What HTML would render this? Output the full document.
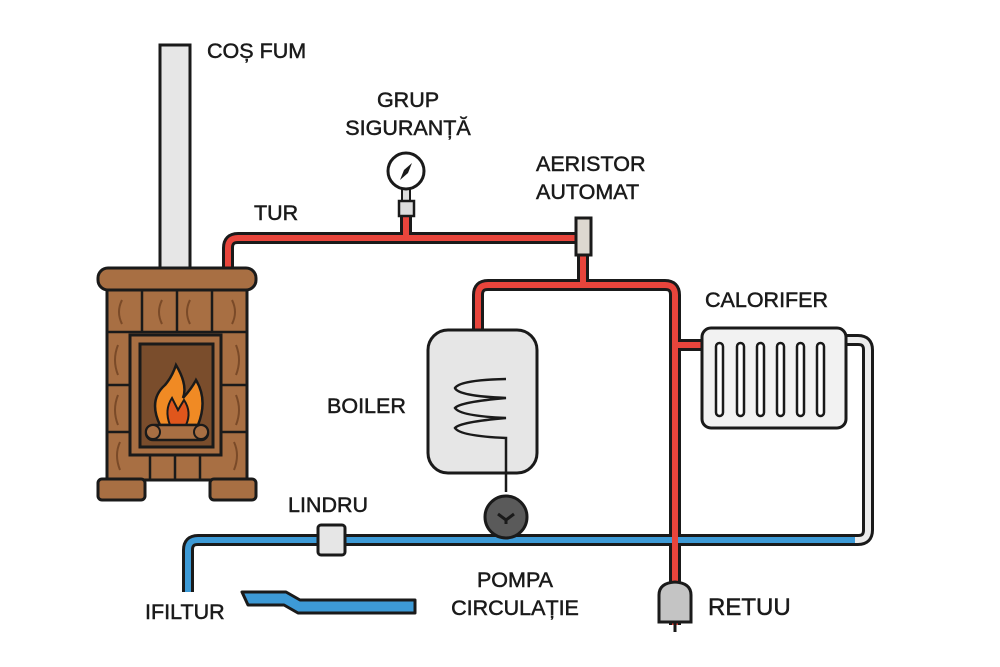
<!DOCTYPE html>
<html><head><meta charset="utf-8"><style>
html,body{margin:0;padding:0;background:#fff;}
svg{display:block}
text{font-family:"Liberation Sans","DejaVu Sans",sans-serif;fill:#1a1a1a;font-size:21.5px;stroke:#1a1a1a;stroke-width:0.5px;}
</style></head><body>
<svg width="1000" height="667" viewBox="0 0 1000 667" xmlns="http://www.w3.org/2000/svg">
<!-- chimney -->
<rect x="160" y="45" width="30" height="226" fill="#e6e6e6" stroke="#1a1a1a" stroke-width="3"/>
<!-- red pipes -->
<g fill="none" stroke-linejoin="round">
<path d="M228 270 V248 Q228 238 238 238 H580 M583 255 V285 M478 330 V295 Q478 285 488 285 H665 Q675 285 675 295 V625 M675 345 H705 M406 216 V238" stroke="#1a1a1a" stroke-width="12"/>
<path d="M228 270 V248 Q228 238 238 238 H580 M583 255 V285 M478 330 V295 Q478 285 488 285 H665 Q675 285 675 295 V625 M675 345 H705 M406 216 V238" stroke="#e8453c" stroke-width="6"/>
<!-- white return -->
<path d="M845 340 H858 Q868 340 868 350 V530 Q868 540 858 540 H840" stroke="#1a1a1a" stroke-width="12"/>
<path d="M845 340 H858 Q868 340 868 350 V530 Q868 540 858 540 H840" stroke="#ececec" stroke-width="6"/>
<!-- blue -->
<path d="M188 592 V550 Q188 540 198 540 H855" stroke="#1a1a1a" stroke-width="12"/>
<path d="M188 592 V550 Q188 540 198 540 H855" stroke="#3d9ad6" stroke-width="6"/>
<path d="M675 534 V546" stroke="#e8453c" stroke-width="6"/>
</g>
<!-- blue bent pipe -->
<polygon points="242,592 286,592 300,600 415,600 415,613 298,613 284,605 248,605" fill="#3d9ad6" stroke="#1a1a1a" stroke-width="3" stroke-linejoin="round"/>
<!-- stove -->
<rect x="107" y="285" width="140" height="195" fill="#a86f43" stroke="#1a1a1a" stroke-width="3"/>
<g stroke="#1a1a1a" stroke-width="2.5">
<line x1="107" y1="332" x2="247" y2="332"/>
<line x1="142" y1="290" x2="142" y2="332"/><line x1="177" y1="290" x2="177" y2="332"/><line x1="212" y1="290" x2="212" y2="332"/>
<line x1="107" y1="385" x2="130" y2="385"/><line x1="220" y1="385" x2="247" y2="385"/>
<line x1="107" y1="432" x2="130" y2="432"/><line x1="220" y1="432" x2="247" y2="432"/>
<line x1="150" y1="455" x2="150" y2="480"/><line x1="175" y1="455" x2="175" y2="480"/><line x1="200" y1="455" x2="200" y2="480"/>
</g>
<g stroke="#7a4a28" stroke-width="2" fill="none">
<path d="M122 300 Q116 312 122 324"/><path d="M162 300 Q156 312 162 324"/><path d="M190 300 Q184 312 190 324"/><path d="M232 300 Q238 312 232 324"/>
<path d="M118 345 Q112 360 118 375"/><path d="M236 345 Q242 360 236 375"/>
<path d="M118 395 Q112 410 118 425"/><path d="M236 395 Q242 410 236 425"/>
<path d="M120 442 Q114 455 120 470"/><path d="M234 442 Q240 455 234 470"/>
</g>
<rect x="98" y="268" width="158" height="22" rx="10" fill="#a86f43" stroke="#1a1a1a" stroke-width="3"/>
<rect x="98" y="479" width="47" height="21" rx="4" fill="#a86f43" stroke="#1a1a1a" stroke-width="3"/>
<rect x="210" y="479" width="46" height="21" rx="4" fill="#a86f43" stroke="#1a1a1a" stroke-width="3"/>
<rect x="130" y="335" width="91" height="120" fill="#a86f43" stroke="#1a1a1a" stroke-width="3"/>
<rect x="140" y="344" width="73" height="103" fill="#7a4d2c" stroke="#1a1a1a" stroke-width="3"/>
<path d="M176 365 Q188 385 183 398 Q192 388 196 380 Q208 400 198 425 L160 425 Q148 400 165 385 Q172 377 176 365 Z" fill="#f08a24" stroke="#1a1a1a" stroke-width="2.5"/>
<path d="M170 425 Q164 410 172 398 L178 410 L184 400 Q192 412 186 425 Z" fill="#e0561c" stroke="#1a1a1a" stroke-width="2"/>
<rect x="146" y="425" width="62" height="15" rx="7" fill="#a86f43" stroke="#1a1a1a" stroke-width="2.5"/>
<circle cx="153" cy="432" r="7" fill="#a86f43" stroke="#1a1a1a" stroke-width="2"/>
<circle cx="201" cy="432" r="7" fill="#a86f43" stroke="#1a1a1a" stroke-width="2"/>
<!-- gauge -->
<rect x="402" y="186" width="8" height="16" fill="#ddd" stroke="#1a1a1a" stroke-width="2"/>
<rect x="399" y="201" width="15" height="15" fill="#ddd" stroke="#1a1a1a" stroke-width="2.5"/>
<circle cx="406" cy="171" r="18" fill="#fff" stroke="#1a1a1a" stroke-width="3"/>
<polygon points="412,163 408,173 400,180 404,170" fill="#1a1a1a"/>
<!-- aerator -->
<rect x="576" y="218" width="15" height="37" fill="#ddd8d0" stroke="#1a1a1a" stroke-width="3"/>
<!-- boiler -->
<rect x="428" y="330" width="109" height="143" rx="20" fill="#e6e6e6" stroke="#1a1a1a" stroke-width="3"/>
<path d="M506 379 Q460 380 455 388 Q458 396 506 398 Q460 402 455 408 Q460 416 506 418 Q460 422 455 428 Q460 436 506 438 V492" fill="none" stroke="#1a1a1a" stroke-width="2.5"/>
<!-- pump -->
<circle cx="506" cy="517" r="21" fill="#5a5a5a" stroke="#1a1a1a" stroke-width="3"/>
<path d="M498 514 L506 520 L514 514 M506 520 V524" stroke="#1a1a1a" stroke-width="3" fill="none"/>
<!-- lindru -->
<rect x="318" y="525" width="27" height="30" rx="3" fill="#e6e6e6" stroke="#1a1a1a" stroke-width="3"/>
<!-- radiator -->
<rect x="702" y="328" width="144" height="100" rx="9" fill="#f2f2f2" stroke="#1a1a1a" stroke-width="3"/>
<g fill="#fff" stroke="#1a1a1a" stroke-width="2.5">
<rect x="716" y="343" width="7" height="73" rx="3.5"/><rect x="737" y="343" width="7" height="73" rx="3.5"/><rect x="757" y="343" width="7" height="73" rx="3.5"/><rect x="777" y="343" width="7" height="73" rx="3.5"/><rect x="797" y="343" width="7" height="73" rx="3.5"/><rect x="817" y="343" width="7" height="73" rx="3.5"/>
</g>
<!-- retur -->
<path d="M675 622 V632" stroke="#1a1a1a" stroke-width="3"/>
<path d="M659 622 V595 Q659 583 675 582 Q691 583 691 595 V622 Z" fill="#c4c4c4" stroke="#1a1a1a" stroke-width="3"/>
<!-- labels -->
<text x="207" y="58">COȘ FUM</text>
<text x="408" y="107" text-anchor="middle">GRUP</text>
<text x="408" y="135" text-anchor="middle">SIGURANȚĂ</text>
<text x="254" y="220">TUR</text>
<text x="536" y="171">AERISTOR</text>
<text x="536" y="199">AUTOMAT</text>
<text x="705" y="307">CALORIFER</text>
<text x="327" y="413">BOILER</text>
<text x="288" y="512">LINDRU</text>
<text x="145" y="619">IFILTUR</text>
<text x="515" y="587" text-anchor="middle">POMPA</text>
<text x="515" y="615" text-anchor="middle">CIRCULAȚIE</text>
<text x="708" y="615" style="font-size:24px">RETUU</text>
</svg>
</body></html>
